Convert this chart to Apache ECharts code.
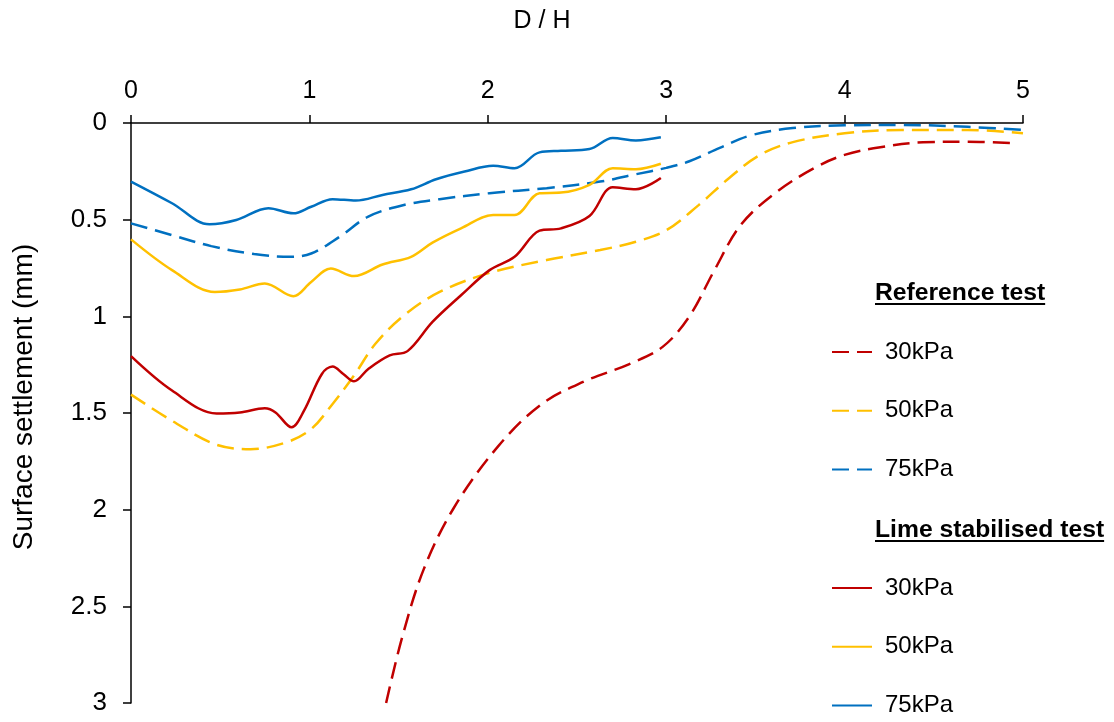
<!DOCTYPE html>
<html>
<head>
<meta charset="utf-8">
<script src="https://cdn.jsdelivr.net/npm/echarts@6/dist/echarts.min.js"></script>
<style>html,body{margin:0;padding:0;background:#fff}#c{width:1114px;height:722px}</style>
</head>
<body>
<div id="c"></div>
<script>
// ---- data: [D/H, surface settlement (mm)] ----
var xTicks = [0, 1, 2, 3, 4, 5];
var yTicks = [0, 0.5, 1, 1.5, 2, 2.5, 3];
var loadNames = ['30kPa', '50kPa', '75kPa'];

var ref30 = [[1.43,3.0],[1.52,2.66],[1.64,2.31],[1.81,1.99],[2.06,1.67],[2.30,1.455],[2.54,1.337],[2.79,1.248],[2.98,1.158],[3.13,1.0],[3.27,0.762],[3.42,0.525],[3.62,0.356],[3.84,0.228],[4.0,0.165],[4.2,0.125],[4.44,0.1],[4.69,0.097],[4.97,0.105]];
var ref50 = [[0,1.405],[0.23,1.54],[0.47,1.661],[0.67,1.687],[0.87,1.652],[1.01,1.583],[1.13,1.453],[1.25,1.306],[1.37,1.142],[1.53,0.995],[1.73,0.874],[2.01,0.775],[2.33,0.709],[2.63,0.657],[2.83,0.614],[3.0,0.555],[3.18,0.426],[3.35,0.287],[3.52,0.168],[3.71,0.099],[4.0,0.053],[4.32,0.036],[4.69,0.036],[5.0,0.053]];
var ref75 = [[0,0.519],[0.23,0.58],[0.45,0.637],[0.69,0.678],[0.89,0.692],[1.01,0.675],[1.17,0.588],[1.33,0.484],[1.53,0.424],[1.73,0.394],[2.01,0.363],[2.33,0.337],[2.63,0.303],[2.83,0.265],[3.0,0.232],[3.13,0.198],[3.30,0.129],[3.47,0.065],[3.71,0.026],[4.0,0.012],[4.32,0.01],[4.69,0.02],[5.0,0.036]];

var lime30 = [[0,1.206],[0.23,1.384],[0.48,1.502],[0.61,1.497],[0.75,1.476],[0.81,1.497],[0.90,1.574],[0.97,1.488],[1.07,1.298],[1.13,1.26],[1.19,1.298],[1.25,1.336],[1.33,1.272],[1.45,1.202],[1.55,1.18],[1.69,1.029],[1.85,0.891],[2.01,0.761],[2.15,0.692],[2.29,0.557],[2.41,0.545],[2.57,0.481],[2.70,0.332],[2.83,0.343],[2.97,0.285]];
var lime50 = [[0,0.602],[0.23,0.761],[0.47,0.874],[0.61,0.861],[0.75,0.83],[0.91,0.896],[1.01,0.822],[1.12,0.753],[1.25,0.792],[1.41,0.732],[1.57,0.692],[1.69,0.619],[1.85,0.545],[2.03,0.476],[2.15,0.476],[2.29,0.363],[2.41,0.36],[2.57,0.32],[2.70,0.234],[2.83,0.239],[2.97,0.211]];
var lime75 = [[0,0.303],[0.23,0.415],[0.44,0.524],[0.59,0.502],[0.77,0.441],[0.91,0.467],[1.01,0.433],[1.13,0.394],[1.26,0.401],[1.41,0.372],[1.57,0.343],[1.71,0.291],[1.87,0.251],[2.03,0.221],[2.15,0.234],[2.29,0.152],[2.41,0.144],[2.57,0.135],[2.70,0.078],[2.83,0.09],[2.97,0.074]];

var colors = ['#C00000', '#FFC000', '#0070C0'];
var FONT = "'Liberation Sans', Arial, sans-serif";

function mkSeries(name, data, color, dashed) {
  return {
    type: 'line', name: name, data: data, smooth: 0.35, symbol: 'none',
    lineStyle: { color: color, width: 2.5, type: dashed ? [17, 8] : 'solid' },
    itemStyle: { color: color }, z: dashed ? 2 : 3
  };
}

var refNames = loadNames.map(function (n) { return 'Reference ' + n; });
var limeNames = loadNames.map(function (n) { return 'Lime ' + n; });
var series = [
  mkSeries(refNames[0], ref30, colors[0], true),
  mkSeries(refNames[1], ref50, colors[1], true),
  mkSeries(refNames[2], ref75, colors[2], true),
  mkSeries(limeNames[0], lime30, colors[0], false),
  mkSeries(limeNames[1], lime50, colors[1], false),
  mkSeries(limeNames[2], lime75, colors[2], false)
];

function textW(str, font) {
  var c = document.createElement('canvas').getContext('2d');
  c.font = font; return c.measureText(str).width;
}
var hdrFont = 'bold 24.7px ' + FONT;
var h1 = 'Reference test', h2 = 'Lime stabilised test';
var w1 = textW(h1, hdrFont), w2 = textW(h2, hdrFont);
var xTitleFont = '25px ' + FONT;

function legendCfg(names, top) {
  return {
    data: names, orient: 'vertical', left: 831, top: top, padding: 0,
    itemWidth: 40, itemHeight: 24, itemGap: 34.7, selectedMode: false,
    itemStyle: { opacity: 0 },
    formatter: function (n) { return n.split(' ').pop(); },
    textStyle: { fontFamily: FONT, fontSize: 24, color: '#000', lineHeight: 24, padding: [0, 0, 0, 8] }
  };
}

var chart = echarts.init(document.getElementById('c'), null, { renderer: 'canvas' });
chart.setOption({
  animation: false,
  backgroundColor: '#fff',
  grid: { left: 131, right: 91, top: 123, bottom: 19, containLabel: false },
  xAxis: {
    type: 'value', position: 'top', min: xTicks[0], max: xTicks[xTicks.length - 1], interval: 1,
    axisLine: { show: true, lineStyle: { color: '#000', width: 1.5 } },
    axisTick: { show: true, inside: false, length: 8, lineStyle: { color: '#000', width: 1.5 } },
    axisLabel: { margin: 19, fontFamily: FONT, fontSize: 25, color: '#000' },
    splitLine: { show: false }
  },
  yAxis: {
    type: 'value', inverse: true, min: yTicks[0], max: yTicks[yTicks.length - 1], interval: 0.5,
    axisLine: { show: true, onZero: false, lineStyle: { color: '#000', width: 1.5 } },
    axisTick: { show: true, inside: false, length: 8, lineStyle: { color: '#000', width: 1.5 } },
    axisLabel: { margin: 24, fontFamily: FONT, fontSize: 26, color: '#000' },
    splitLine: { show: false }
  },
  legend: [legendCfg(refNames, 340), legendCfg(limeNames, 576)],
  graphic: [
    { type: 'text', left: 542 - textW('D / H', xTitleFont) / 2, top: 9,
      style: { text: 'D / H', font: xTitleFont, fill: '#000' } },
    { type: 'text', x: 24, y: 397, rotation: Math.PI / 2, originX: 0, originY: 0,
      style: { text: 'Surface settlement (mm)', font: '28px ' + FONT, fill: '#000', align: 'center', verticalAlign: 'middle' } },
    { type: 'text', left: 875, top: 281, style: { text: h1, font: hdrFont, fill: '#000' } },
    { type: 'line', shape: { x1: 875, y1: 304, x2: 875 + w1, y2: 304 }, style: { stroke: '#000', lineWidth: 2 } },
    { type: 'text', left: 875, top: 518, style: { text: h2, font: hdrFont, fill: '#000' } },
    { type: 'line', shape: { x1: 875, y1: 541, x2: 875 + w2, y2: 541 }, style: { stroke: '#000', lineWidth: 2 } }
  ],
  series: series
});
</script>
</body>
</html>
